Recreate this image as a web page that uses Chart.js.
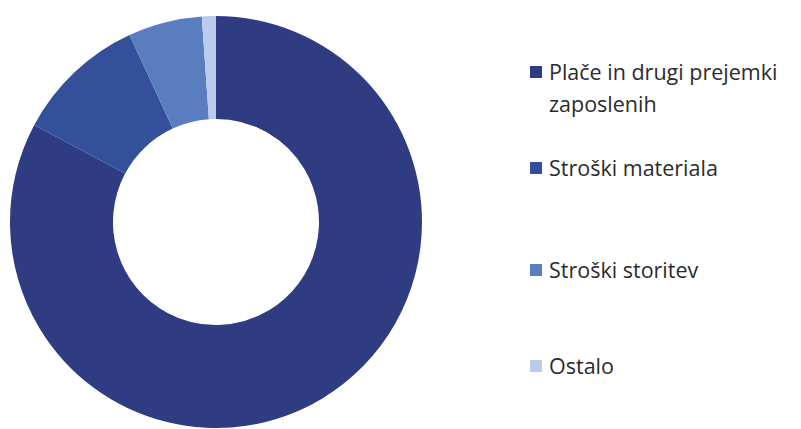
<!DOCTYPE html>
<html>
<head>
<meta charset="utf-8">
<script src="https://cdn.jsdelivr.net/npm/chart.js"></script>
<style>
  html, body { margin: 0; padding: 0; background: #fff; }
  body { width: 801px; height: 429px; position: relative; overflow: hidden; }
  #wrap { position: absolute; left: 0; top: 16px; width: 432px; height: 412px; }
  #legend { position: absolute; left: 530px; top: 56px; font-family: "Open Sans", sans-serif; font-size: 21.5px; color: #2b2b2b; line-height: 32px; }
  .item { display: flex; align-items: flex-start; }
  .box { width: 12px; height: 12px; margin: 10px 7px 0 0; flex: none; }
</style>
</head>
<body>
<div id="wrap"><canvas id="c"></canvas></div>
<div id="legend"></div>
<script>
const categories = ["Plače in drugi prejemki zaposlenih", "Stroški materiala", "Stroški storitev", "Ostalo"];
const shares = [82.8, 10.3, 5.8, 1.1];
const colors = ["#2f3c82", "#34509b", "#5a7dbf", "#bccbec"];
const legendLines = [["Plače in drugi prejemki", "zaposlenih"], ["Stroški materiala"], ["Stroški storitev"], ["Ostalo"]];
const legendGaps = [0, 32, 70, 64];

document.addEventListener("DOMContentLoaded", function () {
  const legend = document.getElementById("legend");
  categories.forEach(function (name, i) {
    const item = document.createElement("div");
    item.className = "item";
    item.style.marginTop = legendGaps[i] + "px";
    const box = document.createElement("span");
    box.className = "box";
    box.style.background = colors[i];
    const text = document.createElement("span");
    text.innerHTML = legendLines[i].join("<br>");
    item.appendChild(box);
    item.appendChild(text);
    legend.appendChild(item);
  });

  new Chart(document.getElementById("c").getContext("2d"), {
    type: "doughnut",
    data: {
      labels: categories,
      datasets: [{
        data: shares,
        backgroundColor: colors,
        borderWidth: 0
      }]
    },
    options: {
      cutout: "50%",
      animation: false,
      responsive: true,
      maintainAspectRatio: false,
      plugins: {
        legend: { display: false },
        tooltip: { enabled: false }
      }
    }
  });
});
</script>
</body>
</html>
